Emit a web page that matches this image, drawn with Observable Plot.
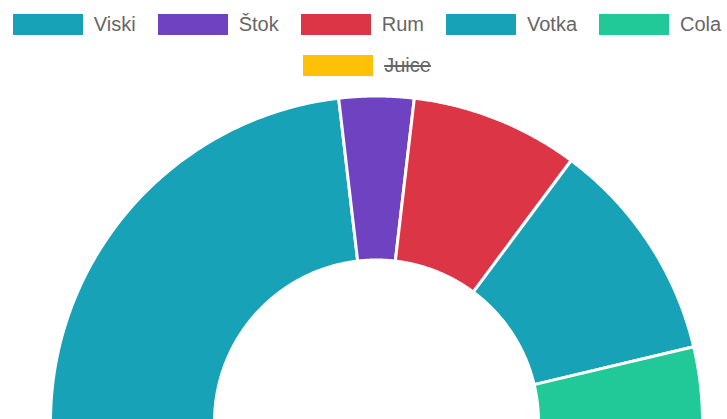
<!DOCTYPE html>
<html>
<head>
<meta charset="utf-8">
<script src="https://cdn.jsdelivr.net/npm/d3@7"></script>
<script src="https://cdn.jsdelivr.net/npm/@observablehq/plot@0.6"></script>
<style>
  html, body { margin: 0; padding: 0; background: #fff; overflow: hidden; }
  #legend { height: 88px; box-sizing: border-box; padding-left: 7px; font-family: "Liberation Sans", Arial, Helvetica, sans-serif; font-size: 20px; color: #666; }
  .row { display: flex; justify-content: center; align-items: center; height: 21px; }
  .row1 { padding-top: 14px; }
  .row2 { margin-top: 20px; }
  .item { display: flex; align-items: center; margin: 0 11px; }
  .box { width: 70px; height: 21px; box-sizing: border-box; margin-right: 11px; }
  .hidden span { text-decoration: line-through; }
  #chart svg { display: block; }
</style>
</head>
<body>
<div id="legend"></div>
<div id="chart"></div>
<script>
const categories = ["Viski", "Štok", "Rum", "Votka", "Cola", "Juice"];
const values = [25, 4, 9, 12, 4, null];
const hidden = [false, false, false, false, false, true];
const colors = ["#17a2b8", "#6f42c1", "#dc3545", "#17a2b8", "#20c997", "#ffc107"];

// Legend (HTML, above the SVG)
const legend = document.getElementById("legend");
const rows = [categories.slice(0, 5).map((c, i) => i), [5]];
rows.forEach((idx, ri) => {
  const row = document.createElement("div");
  row.className = "row row" + (ri + 1);
  idx.forEach(i => {
    const item = document.createElement("div");
    item.className = "item" + (hidden[i] ? " hidden" : "");
    const box = document.createElement("div");
    box.className = "box";
    box.style.background = colors[i];
    const label = document.createElement("span");
    label.textContent = categories[i];
    item.appendChild(box);
    item.appendChild(label);
    row.appendChild(item);
  });
  legend.appendChild(row);
});

// Half doughnut
const W = 727, H = 331;
const cx = 376, cy = 333.5;           // centre in SVG pixels
const R = 326, r = 162;               // outer / inner radius

const table = categories.map((name, i) => ({name, value: values[i], hidden: hidden[i]}))
  .filter(d => !d.hidden && d.value != null);

const arcs = d3.pie().sort(null).value(d => d.value)
  .startAngle(-Math.PI / 2).endAngle(Math.PI / 2)(table);

const pts = [];
for (const a of arcs) {
  const n = 120;
  for (let k = 0; k <= n; k++) {
    const t = a.startAngle + (a.endAngle - a.startAngle) * k / n;
    pts.push({name: a.data.name, x: R * Math.sin(t), y: R * Math.cos(t)});
  }
  for (let k = n; k >= 0; k--) {
    const t = a.startAngle + (a.endAngle - a.startAngle) * k / n;
    pts.push({name: a.data.name, x: r * Math.sin(t), y: r * Math.cos(t)});
  }
}

const chart = Plot.plot({
  width: W,
  height: H,
  margin: 0,
  x: {domain: [-cx, W - cx], axis: null},
  y: {domain: [cy - H, cy], axis: null},
  color: {domain: categories, range: colors},
  marks: [
    Plot.line(pts, {x: "x", y: "y", z: "name", fill: "name", stroke: "white", strokeWidth: 3, curve: "linear-closed", clip: true})
  ]
});
document.getElementById("chart").appendChild(chart);
</script>
</body>
</html>
